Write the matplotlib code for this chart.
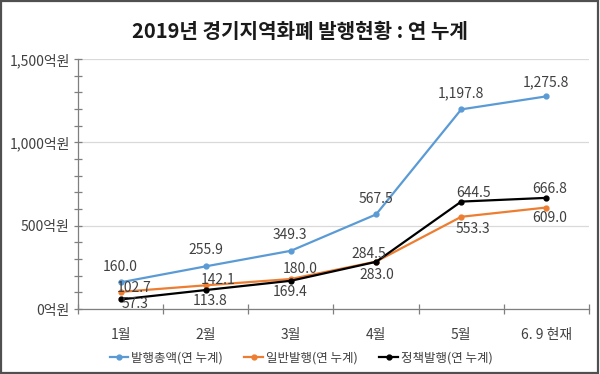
import matplotlib
matplotlib.use("Agg")
import matplotlib.pyplot as plt
from matplotlib.patches import Rectangle
from matplotlib.ticker import MultipleLocator, FuncFormatter

plt.rcParams['font.family'] = ['Noto Sans CJK KR', 'DejaVu Sans']

# ---- data ----
categories = ['1월', '2월', '3월', '4월', '5월', '6. 9 현재']
total = [160.0, 255.9, 349.3, 567.5, 1197.8, 1275.8]
general = [102.7, 142.1, 180.0, 284.5, 553.3, 609.0]
policy = [57.3, 113.8, 169.4, 283.0, 644.5, 666.8]
series_names = ['발행총액(연 누계)', '일반발행(연 누계)', '정책발행(연 누계)']
title = '2019년 경기지역화폐 발행현황 : 연 누계'

# label offsets (pixels, dx, dy-up)
off_total = [(0, 15), (0, 16), (-1, 16), (0, 15), (0, 16), (0, 14)]
off_general = [(14, 4), (12, 5), (9, 10), (-7, 8), (12, -12), (3, -11)]
off_policy = [(14, -5), (4, -11), (-1, -11), (1, -13), (12, 9), (3, 9)]

colors = ['#5B9BD5', '#ED7D31', '#000000']
txt = '#404040'

fig = plt.figure(figsize=(6.0, 3.74), dpi=100)
ax = fig.add_axes([78 / 600, 1 - 309 / 374, (589 - 78) / 600, (309 - 59) / 374])

x = list(range(len(categories)))
for vals, c, name, offs in [(total, colors[0], series_names[0], off_total),
                            (general, colors[1], series_names[1], off_general),
                            (policy, colors[2], series_names[2], off_policy)]:
    ax.plot(x, vals, color=c, lw=1.6, marker='o', markersize=3.5, label=name, zorder=3)
    for xi, v, (dx, dy) in zip(x, vals, offs):
        ax.annotate(f'{v:,.1f}', (xi, v), xytext=(dx * 0.72, dy * 0.72),
                    textcoords='offset points', ha='center', va='center',
                    fontsize=10, color=txt, zorder=4)

ax.set_xlim(-0.5, len(categories) - 0.5)
ax.set_ylim(0, 1500)
ax.yaxis.set_major_locator(MultipleLocator(500))
ax.yaxis.set_minor_locator(MultipleLocator(100))
ax.yaxis.set_major_formatter(FuncFormatter(lambda v, p: f'{int(v):,}억원'))
ax.grid(axis='y', which='major', color='#D9D9D9', lw=0.9, zorder=0)
ax.set_axisbelow(True)

ax.set_xticks([i - 0.5 for i in range(len(categories) + 1)])
ax.set_xticklabels([])
ax.set_xticks(x, minor=True)
ax.set_xticklabels(categories, minor=True)
ax.tick_params(axis='x', which='major', direction='inout', length=7, width=0.9, color='#7F7F7F')
ax.tick_params(axis='x', which='minor', length=0, pad=14, labelsize=10, labelcolor=txt)
ax.tick_params(axis='y', which='both', direction='inout', length=6, width=0.9, color='#7F7F7F',
               labelsize=10, labelcolor=txt, pad=3)

for s in ['top', 'right']:
    ax.spines[s].set_visible(False)
for s in ['left', 'bottom']:
    ax.spines[s].set_color('#7F7F7F')
    ax.spines[s].set_linewidth(0.9)

fig.text(0.5, 1 - 31 / 374, title, ha='center', va='center', fontsize=14.5,
         fontweight='bold', color='#1a1a1a')

fig.legend(loc='center', bbox_to_anchor=(0.502, 1 - 358 / 374), ncol=3, frameon=False,
           fontsize=9, handlelength=1.5, handletextpad=0.25, columnspacing=1.7,
           labelcolor=txt)

fig.patches.append(Rectangle((0.002, 0.003), 0.995, 0.993, transform=fig.transFigure,
                             fill=False, edgecolor='#505050', lw=1.6))

fig.savefig('out.png', dpi=100)
